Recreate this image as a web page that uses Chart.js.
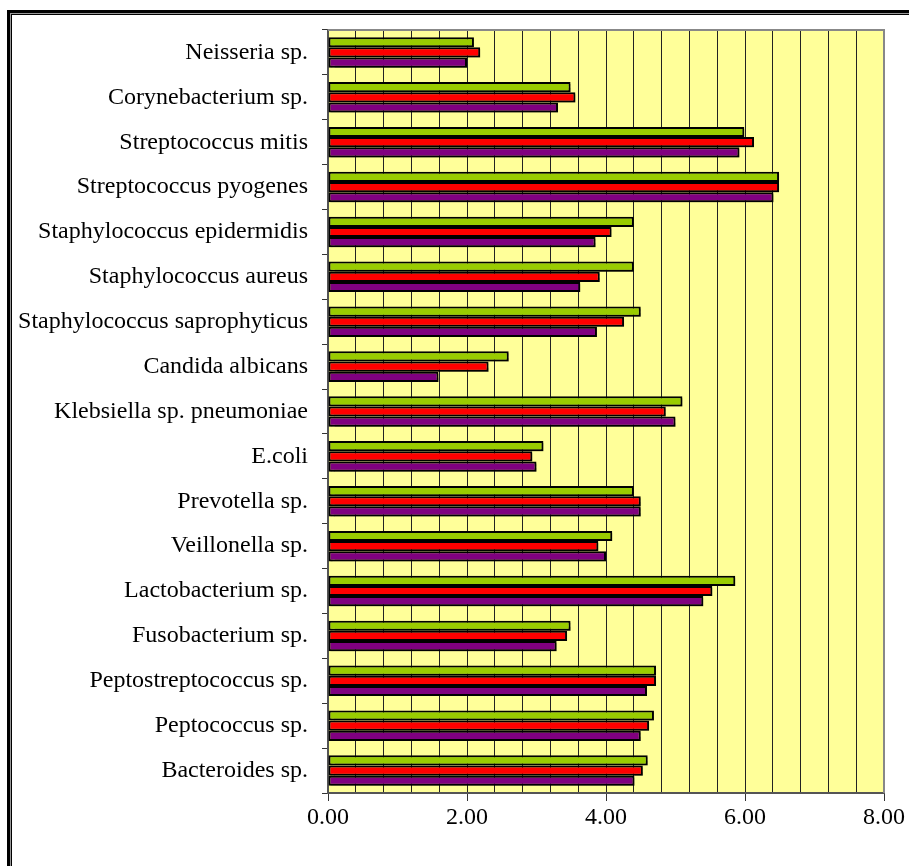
<!DOCTYPE html>
<html>
<head>
    <title>Bacteria chart</title>
    <script src="https://cdn.jsdelivr.net/npm/chart.js"></script>
    <style>
        body { margin: 0; background: #fff; }
        #chartBox { width: 909px; height: 866px; position: relative; }
    </style>
</head>
<body>
    <div id="chartBox"><canvas id="bacteriaChart" width="909" height="866"></canvas></div>

    <script>
        // categories, top to bottom
        const species = [
            'Neisseria sp.', 'Corynebacterium sp.', 'Streptococcus mitis', 'Streptococcus pyogenes',
            'Staphylococcus epidermidis', 'Staphylococcus aureus', 'Staphylococcus saprophyticus',
            'Candida albicans', 'Klebsiella sp. pneumoniae', 'E.coli', 'Prevotella sp.',
            'Veillonella sp.', 'Lactobacterium sp.', 'Fusobacterium sp.', 'Peptostreptococcus sp.',
            'Peptococcus sp.', 'Bacteroides sp.'
        ];

        // three series (green, red, purple)
        const greenValues  = [2.10, 3.49, 5.99, 6.49, 4.40, 4.40, 4.50, 2.60, 5.10, 3.10, 4.40, 4.09, 5.86, 3.49, 4.72, 4.69, 4.60];
        const redValues    = [2.19, 3.56, 6.13, 6.49, 4.08, 3.91, 4.26, 2.31, 4.86, 2.94, 4.50, 3.89, 5.53, 3.44, 4.72, 4.62, 4.53];
        const purpleValues = [2.00, 3.31, 5.92, 6.41, 3.85, 3.63, 3.87, 1.59, 5.00, 3.00, 4.50, 4.00, 5.40, 3.29, 4.59, 4.50, 4.41];

        const xTickLabels = ['0.00', '2.00', '4.00', '6.00', '8.00'];

        const serif = 'Liberation Serif';
        const isMajor = v => Math.abs(v / 2 - Math.round(v / 2)) < 1e-6;

        // yellow plot background + plot border + outer frame + bar shadows
        const decor = {
            id: 'decor',
            beforeDraw(chart) {
                const { ctx, chartArea: a } = chart;
                ctx.save();
                ctx.fillStyle = '#ffff99';
                ctx.fillRect(a.left, a.top, a.right - a.left, a.bottom - a.top);
                ctx.restore();
            },
            beforeDatasetsDraw(chart) {
                const ctx = chart.ctx;
                ctx.save();
                ctx.shadowColor = 'rgba(0,0,0,0.35)';
                ctx.shadowOffsetX = 2;
                ctx.shadowOffsetY = 2;
                ctx.shadowBlur = 1;
            },
            afterDatasetsDraw(chart) {
                chart.ctx.restore();
            },
            afterDraw(chart) {
                const { ctx, chartArea: a } = chart;
                ctx.save();
                ctx.strokeStyle = '#888';
                ctx.lineWidth = 2;
                ctx.beginPath();
                ctx.moveTo(a.left, a.top);
                ctx.lineTo(a.right, a.top);
                ctx.lineTo(a.right, a.bottom);
                ctx.stroke();
                // outer frame, top and left
                ctx.fillStyle = '#000';
                ctx.fillRect(7, 10, 902, 3);
                ctx.fillRect(7, 10, 3, 856);
                ctx.fillStyle = '#999';
                ctx.fillRect(10, 13, 899, 1);
                ctx.fillRect(10, 13, 1, 853);
                ctx.fillStyle = '#000';
                ctx.fillRect(11, 14, 898, 1);
                ctx.fillRect(11, 14, 1, 852);
                ctx.restore();
            }
        };

        const barStyle = { borderColor: '#000', borderWidth: 2, barPercentage: 1.0, categoryPercentage: 0.68, borderSkipped: false };

        new Chart(document.getElementById('bacteriaChart'), {
            type: 'bar',
            data: {
                labels: species,
                datasets: [
                    Object.assign({ label: 'A', data: greenValues, backgroundColor: '#99cc00' }, barStyle),
                    Object.assign({ label: 'B', data: redValues, backgroundColor: '#ff0000' }, barStyle),
                    Object.assign({ label: 'C', data: purpleValues, backgroundColor: '#800080' }, barStyle)
                ]
            },
            options: {
                indexAxis: 'y',
                responsive: false,
                animation: false,
                layout: { padding: { top: 30, right: 25, left: 0, bottom: 0 } },
                plugins: { legend: { display: false }, tooltip: { enabled: false } },
                scales: {
                    x: {
                        min: 0,
                        max: 8,
                        ticks: {
                            stepSize: 0.4,
                            autoSkip: false,
                            maxRotation: 0,
                            color: '#000',
                            padding: 2,
                            font: { family: serif, size: 24 },
                            callback: v => isMajor(v) ? xTickLabels[Math.round(v / 2)] : ''
                        },
                        grid: {
                            color: '#222',
                            lineWidth: 1,
                            tickLength: 8,
                            tickColor: c => (c.tick && isMajor(c.tick.value)) ? '#333' : 'rgba(0,0,0,0)'
                        },
                        border: { color: '#555', width: 2 },
                        afterFit: s => { s.height = 73; }
                    },
                    y: {
                        ticks: {
                            color: '#000',
                            padding: 14,
                            autoSkip: false,
                            font: { family: serif, size: 24 }
                        },
                        grid: {
                            offset: true,
                            drawOnChartArea: false,
                            tickLength: 6,
                            color: '#333'
                        },
                        border: { color: '#555', width: 2 },
                        afterFit: s => { s.width = 328; }
                    }
                }
            },
            plugins: [decor]
        });
    </script>
</body>
</html>
